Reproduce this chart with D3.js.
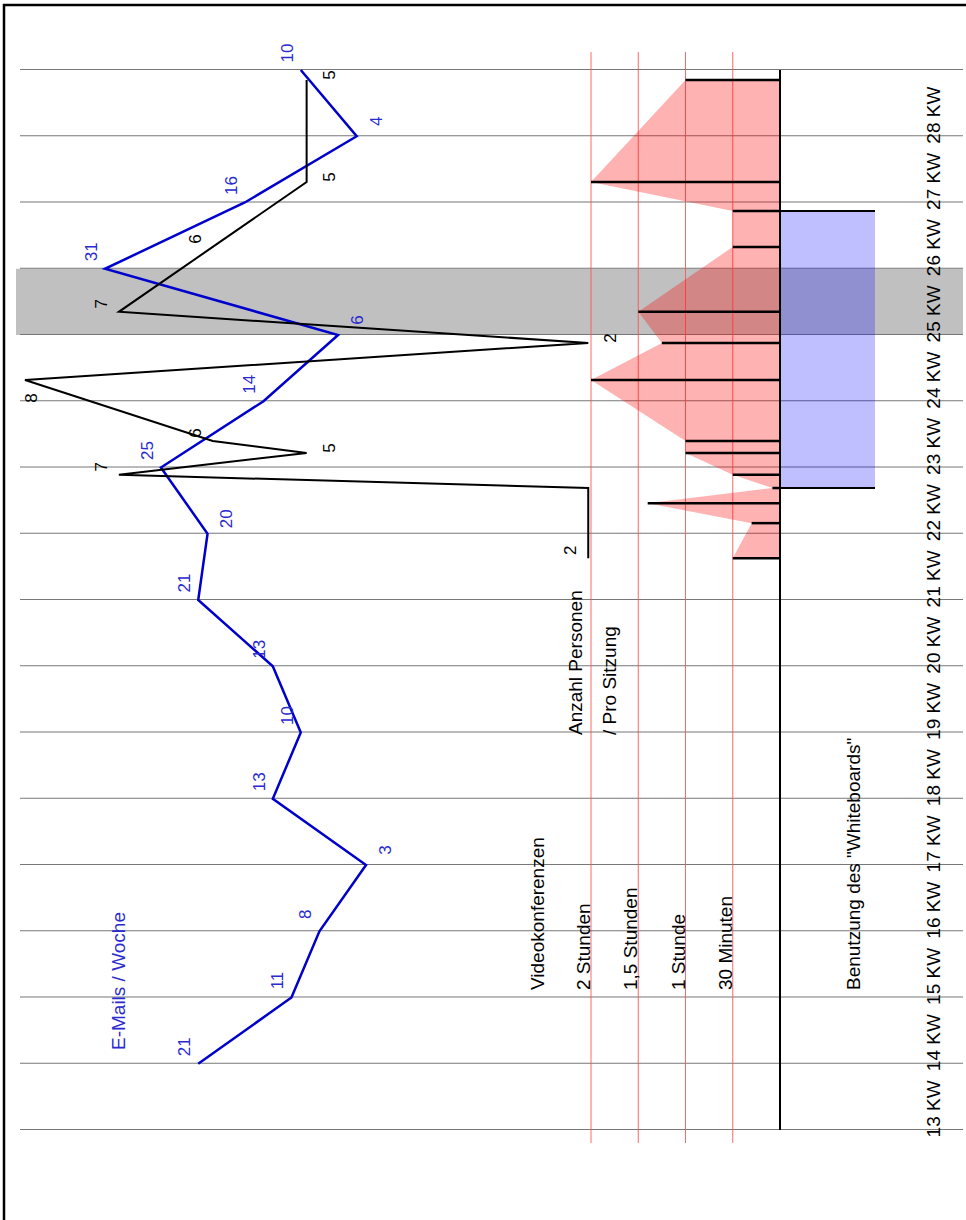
<!DOCTYPE html>
<html>
<head>
<meta charset="utf-8">
<script src="https://cdn.jsdelivr.net/npm/d3@7"></script>
<style>
  body { margin: 0; background: #fff; }
  svg text { font-family: "Liberation Sans", Arial, sans-serif; }
</style>
</head>
<body>
<div id="chart"></div>
<script>
// weeks (Kalenderwochen) along the rotated axis
const weekLabels = ["13 KW", "14 KW", "15 KW", "16 KW", "17 KW", "18 KW", "19 KW", "20 KW",
                    "21 KW", "22 KW", "23 KW", "24 KW", "25 KW", "26 KW", "27 KW", "28 KW"];

// E-Mails per week (KW 13 .. 28)
const emails = [21, 11, 8, 3, 13, 10, 13, 21, 20, 25, 14, 6, 31, 16, 4, 10];

// video conferences: time (in weeks, 13 = start of KW 13), length in hours, persons per session
const sessionWeek    = [21.63, 22.16, 22.46, 22.69, 22.89, 23.22, 23.40, 24.32, 24.88, 25.35, 26.33, 26.87, 27.31, 28.85];
const sessionHours   = [0.5,   0.3,   1.4,   0.08,  0.5,   1,     1,     2,     1.25,  1.5,   0.5,   0.5,   2,     1];
const sessionPersons = [2,     2,     2,     2,     7,     5,     6,     8,     2,     7,     6,     null,  5,     5];

// duration reference lines
const durTicks  = [2, 1.5, 1, 0.5];
const durLabels = ["2 Stunden", "1,5 Stunden", "1 Stunde", "30 Minuten"];

// whiteboard usage (from / to, in weeks) and the highlighted week
const whiteboard = [22.69, 26.87];
const highlightWeek = "25 KW";

// label placement: weeks whose e-mail number sits on the right of the line
const emailRightLabels = [16, 21, 24, 27];

const W = 966, H = 1220;

const svg = d3.select("#chart").append("svg")
  .attr("width", W)
  .attr("height", H);

// frame
svg.append("rect")
  .attr("x", 4).attr("y", 5)
  .attr("width", 1000).attr("height", 1300)
  .attr("fill", "none")
  .attr("stroke", "#000")
  .attr("stroke-width", 2.5);

// the whole chart is drawn in landscape and turned by -90 degrees
// local x = along weeks (page upwards), local y = page x
const g = svg.append("g").attr("transform", "translate(0," + H + ") rotate(-90)");

const weekNums = weekLabels.map(s => parseInt(s));
const t = d3.scaleLinear().domain([13, 29]).range([90, 1150]);
const band = d3.scaleBand().domain(weekLabels).range([90, 1150]);
const eScale = d3.scaleLinear().domain([0, 31]).range([394, 105]);
const pScale = d3.scaleLinear().domain([0, 8]).range([776, 25]);
const hScale = d3.scaleLinear().domain([0, 2]).range([780, 591]);

// highlighted week
g.append("rect")
  .attr("x", band(highlightWeek))
  .attr("width", band.bandwidth())
  .attr("y", 16)
  .attr("height", 947)
  .attr("fill", "#c0c0c0");

// week grid lines
g.append("g")
  .attr("transform", "translate(0,963)")
  .call(d3.axisBottom(t).tickValues(d3.range(13, 30)).tickSize(-943).tickFormat(""))
  .call(a => a.select(".domain").remove())
  .selectAll("line")
  .attr("stroke", "#777")
  .attr("stroke-width", 1.2);

// week labels
g.append("g")
  .attr("transform", "translate(-12,926)")
  .attr("font-family", "Liberation Sans, Arial, sans-serif")
  .call(d3.axisBottom(band).tickSize(0).tickPadding(0))
  .call(a => a.select(".domain").remove())
  .selectAll("text")
  .attr("font-size", 19)
  .attr("fill", "#000");

// duration reference lines
g.selectAll(".dur")
  .data(durTicks)
  .enter().append("line")
  .attr("class", "dur")
  .attr("x1", 77).attr("x2", 1168)
  .attr("y1", d => hScale(d)).attr("y2", d => hScale(d))
  .attr("stroke", "#ff4d4d")
  .attr("stroke-opacity", 0.85)
  .attr("stroke-width", 1);

const sessions = sessionWeek.map((w, i) => ({ w: w, h: sessionHours[i], p: sessionPersons[i] }));

// duration area
g.append("path")
  .datum(sessions)
  .attr("d", d3.area()
    .x(d => t(d.w))
    .y0(hScale(0))
    .y1(d => hScale(d.h)))
  .attr("fill", "red")
  .attr("fill-opacity", 0.3);

// whiteboard usage
g.append("rect")
  .attr("x", t(whiteboard[0]))
  .attr("width", t(whiteboard[1]) - t(whiteboard[0]))
  .attr("y", hScale(0))
  .attr("height", 95)
  .attr("fill", "blue")
  .attr("fill-opacity", 0.25);

g.selectAll(".wbEdge")
  .data(whiteboard)
  .enter().append("line")
  .attr("class", "wbEdge")
  .attr("x1", d => t(d)).attr("x2", d => t(d))
  .attr("y1", hScale(0)).attr("y2", hScale(0) + 95)
  .attr("stroke", "#000")
  .attr("stroke-width", 2);

// base axis of the conferences
g.append("line")
  .attr("x1", t(13)).attr("x2", t(29))
  .attr("y1", hScale(0)).attr("y2", hScale(0))
  .attr("stroke", "#000")
  .attr("stroke-width", 2);

// one bar per session
g.selectAll(".session")
  .data(sessions)
  .enter().append("line")
  .attr("class", "session")
  .attr("x1", d => t(d.w)).attr("x2", d => t(d.w))
  .attr("y1", hScale(0)).attr("y2", d => hScale(d.h))
  .attr("stroke", "#000")
  .attr("stroke-width", 2.5);

// e-mails line
const emailData = emails.map((v, i) => ({ w: weekNums[i], v: v }));
g.append("path")
  .datum(emailData)
  .attr("d", d3.line().x(d => t(d.w + 1)).y(d => eScale(d.v)))
  .attr("fill", "none")
  .attr("stroke", "#0000cc")
  .attr("stroke-width", 2.5)
  .attr("stroke-linejoin", "miter");

g.selectAll(".elab")
  .data(emailData)
  .enter().append("text")
  .attr("class", "elab")
  .attr("x", d => t(d.w + 1) + (emailRightLabels.includes(d.w) ? 15 : 17))
  .attr("y", d => eScale(d.v) + (emailRightLabels.includes(d.w) ? 19 : -14))
  .attr("dy", "0.35em")
  .attr("text-anchor", "middle")
  .attr("font-size", 17)
  .attr("fill", "#2a2ad0")
  .text(d => d.v);

// persons per session line
const persons = sessions.filter(d => d.p != null);
g.append("path")
  .datum(persons)
  .attr("d", d3.line().x(d => t(d.w)).y(d => pScale(d.p)))
  .attr("fill", "none")
  .attr("stroke", "#000")
  .attr("stroke-width", 2);

const plabs = persons.map((d, i) => {
  const prev = persons[i - 1], next = persons[i + 1];
  const show = i === 0 || i === persons.length - 1 || d.p !== prev.p;
  const right = i > 0 && d.p <= prev.p && (!next || d.p <= next.p);
  return { d: d, show: show, right: right };
}).filter(o => o.show);

g.selectAll(".plab")
  .data(plabs)
  .enter().append("text")
  .attr("class", "plab")
  .attr("x", o => {
    const edge = pScale(o.d.p) - 18 < 22;
    return t(o.d.w) + (o.right ? 5 : (edge ? -18 : 8));
  })
  .attr("y", o => {
    const y = pScale(o.d.p);
    if (o.right) return y + 22;
    return y - 18 < 22 ? y + 6 : y - 18;
  })
  .attr("dy", "0.35em")
  .attr("text-anchor", "middle")
  .attr("font-size", 17)
  .attr("fill", "#000")
  .text(o => o.d.p);

// texts
const u = y => H - y; // page y -> local x
function label(text, pageY, pageX, color) {
  g.append("text")
    .attr("x", u(pageY))
    .attr("y", pageX)
    .attr("font-size", 19)
    .attr("fill", color || "#000")
    .text(text);
}

label("E-Mails / Woche", 1050, 125, "#2a2ad0");
label("Videokonferenzen", 990, 544);
durLabels.forEach((s, i) => label(s, 990, hScale(durTicks[i]) - 1));
label("Anzahl Personen", 735, 582);
label("/ Pro Sitzung", 735, 616);
label("Benutzung des \"Whiteboards\"", 990, 860);
</script>
</body>
</html>
